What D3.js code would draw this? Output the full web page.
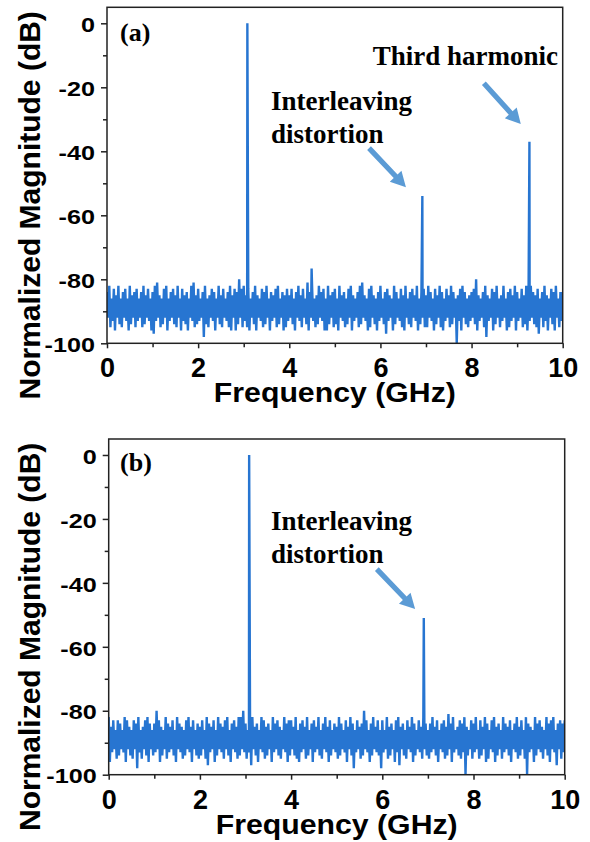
<!DOCTYPE html>
<html>
<head>
<meta charset="utf-8">
<script src="https://cdn.jsdelivr.net/npm/d3@7"></script>
<style>
  body { margin: 0; background: #fff; }
  svg { display: block; }
</style>
</head>
<body>
<svg id="chart" width="590" height="842"></svg>
<script>
// spectrum is stored as peak / trough per 0.05 GHz bin (0 .. 10 GHz)
const binStep = 0.05;

const hiA = [
  -84,-82,-86,-83,-85,-82,-86,-84,-83,-86,-82,-85,-84,-83,-86,-84,-82,-85,-83,-86,
  -84,-82,-81,-85,-86,-83,-82,-86,-84,-83,-85,-82,-86,-83,-85,-84,-86,-82,-81,-85,
  -83,-86,-84,-82,-86,-85,-83,-84,-86,-82,-85,-83,-86,-84,-82,-85,-83,-84,-80,-83,
  -82,-85,-83,-86,-84,-82,-85,-86,-83,-84,-82,-86,-84,-85,-83,-82,-86,-84,-85,-83,
  -85,-83,-86,-84,-82,-85,-83,-86,-81,-84,-82,-86,-85,-82,-84,-83,-86,-82,-85,-84,
  -83,-86,-82,-85,-84,-86,-83,-82,-85,-86,-84,-82,-81,-85,-86,-83,-82,-85,-86,-84,
  -82,-86,-84,-83,-85,-86,-82,-84,-86,-83,-85,-82,-86,-84,-83,-85,-82,-86,-84,-83,
  -85,-82,-84,-86,-83,-85,-82,-84,-86,-83,-85,-82,-84,-86,-85,-83,-82,-84,-86,-85,
  -84,-83,-80,-85,-86,-84,-82,-85,-86,-83,-84,-82,-86,-85,-82,-86,-84,-83,-85,-82,
  -84,-86,-83,-85,-82,-86,-82,-84,-85,-83,-86,-84,-82,-85,-86,-83,-84,-82,-86,-84,
  -84
];
const loA = [
  -92,-95,-93,-96,-92,-94,-95,-92,-93,-96,-94,-92,-95,-93,-92,-95,-94,-92,-93,-96,
  -97,-93,-92,-95,-94,-92,-96,-93,-92,-94,-95,-92,-96,-93,-94,-96,-92,-93,-95,-94,
  -93,-92,-98,-94,-95,-92,-93,-96,-92,-94,-95,-92,-93,-95,-96,-92,-96,-94,-92,-95,
  -93,-95,-96,-92,-94,-96,-92,-93,-95,-94,-92,-96,-93,-92,-95,-94,-92,-96,-95,-93,
  -92,-94,-96,-92,-93,-95,-92,-94,-96,-92,-93,-95,-94,-92,-93,-96,-96,-94,-92,-95,
  -94,-96,-92,-93,-95,-94,-92,-96,-93,-92,-95,-94,-92,-93,-96,-95,-92,-94,-96,-93,
  -92,-94,-97,-93,-92,-96,-94,-92,-93,-95,-96,-92,-94,-95,-92,-93,-96,-94,-92,-95,
  -95,-92,-93,-96,-94,-92,-95,-96,-93,-92,-95,-94,-92,-100,-93,-96,-92,-94,-95,-93,
  -92,-94,-96,-93,-92,-95,-98,-93,-92,-96,-94,-92,-95,-93,-92,-96,-95,-93,-92,-96,
  -93,-92,-95,-94,-96,-93,-92,-94,-95,-97,-92,-95,-93,-96,-92,-94,-96,-92,-95,-93,
  -94
];
const hiB = [
  -82,-85,-83,-86,-83,-84,-86,-82,-83,-85,-86,-83,-84,-82,-86,-85,-83,-82,-84,-86,
  -84,-80,-83,-85,-86,-82,-84,-85,-83,-86,-82,-84,-85,-86,-83,-82,-85,-83,-86,-84,
  -85,-83,-86,-82,-84,-85,-83,-86,-82,-84,-85,-83,-82,-86,-84,-83,-85,-82,-82,-80,
  -84,-86,-83,-82,-85,-84,-86,-82,-83,-85,-84,-86,-82,-84,-83,-85,-86,-82,-84,-83,
  -83,-85,-82,-86,-84,-83,-85,-82,-86,-84,-83,-85,-82,-86,-84,-82,-85,-83,-86,-84,
  -85,-82,-84,-86,-83,-85,-82,-84,-86,-83,-85,-84,-80,-83,-86,-84,-82,-85,-83,-86,
  -83,-86,-82,-85,-84,-86,-83,-82,-85,-84,-86,-83,-85,-82,-84,-86,-83,-85,-82,-84,
  -86,-84,-82,-85,-83,-86,-84,-83,-85,-81,-84,-82,-86,-85,-83,-84,-82,-85,-86,-83,
  -84,-82,-86,-83,-85,-82,-84,-86,-83,-82,-85,-84,-86,-82,-84,-85,-83,-86,-84,-82,
  -85,-83,-86,-82,-84,-85,-86,-82,-84,-83,-85,-86,-82,-84,-83,-82,-86,-84,-83,-84,
  -83
];
const loB = [
  -96,-93,-92,-95,-94,-92,-93,-96,-92,-94,-95,-92,-98,-93,-95,-92,-94,-96,-92,-94,
  -93,-92,-96,-94,-92,-95,-93,-92,-94,-96,-92,-93,-95,-94,-92,-93,-96,-92,-94,-95,
  -94,-92,-95,-97,-93,-92,-96,-94,-92,-93,-95,-92,-94,-96,-92,-93,-95,-94,-92,-93,
  -95,-93,-97,-92,-94,-96,-92,-93,-95,-94,-92,-96,-93,-92,-94,-95,-92,-93,-96,-94,
  -92,-94,-95,-96,-93,-92,-95,-94,-92,-96,-93,-92,-94,-95,-92,-93,-96,-94,-92,-93,
  -95,-94,-92,-93,-96,-92,-94,-98,-93,-92,-95,-94,-92,-93,-96,-94,-92,-93,-94,-98,
  -93,-92,-95,-94,-92,-96,-93,-97,-92,-94,-95,-92,-93,-96,-94,-92,-93,-95,-92,-94,
  -95,-93,-92,-94,-96,-92,-93,-95,-94,-92,-96,-93,-92,-94,-95,-93,-100,-94,-92,-95,
  -93,-92,-95,-94,-92,-96,-95,-92,-93,-96,-94,-92,-95,-93,-92,-94,-96,-92,-93,-95,
  -94,-92,-95,-100,-93,-92,-96,-94,-92,-93,-95,-92,-94,-96,-92,-93,-97,-92,-95,-93,
  -94
];

// discrete tones [GHz, dB]
const tonesA = [[3.08, 0], [4.49, -76.6], [6.92, -54], [9.27, -37]];
const tonesB = [[3.08, 0], [6.91, -51]];

const xMajor = [0, 2, 4, 6, 8, 10];
const xMinor = [1, 3, 5, 7, 9];
const yMajor = [0, -20, -40, -60, -80, -100];
const yMinor = [-10, -30, -50, -70, -90];

// annotations: text lines [GHz, dB, text], arrows [tailGHz, tailDB, tipGHz, tipDB]
const notesA = [[3.6, -27.1, "Interleaving"], [3.6, -37.4, "distortion"], [5.83, -13.0, "Third harmonic"]];
const arrowsA = [[5.75, -39.0, 6.56, -51.2], [8.27, -18.7, 9.08, -31.5]];
const notesB = [[3.56, -23.5, "Interleaving"], [3.56, -33.75, "distortion"]];
const arrowsB = [[5.88, -35.7, 6.72, -48.2]];

const svg = d3.select("#chart");
const traceColor = "#2775d1";
const arrowColor = "#5b9bd5";
const sans = "'Liberation Sans', Arial, Helvetica, sans-serif";
const serif = "'Liberation Serif', 'Times New Roman', serif";

function drawPanel(conf) {
    const x = d3.scaleLinear().domain([0, 10]).range([conf.left, conf.right]);
    const y = d3.scaleLinear().domain([-100, 5]).range([conf.bottom, conf.top]);
    const g = svg.append("g");

    // clip
    g.append("clipPath").attr("id", conf.id + "-clip")
        .append("rect")
        .attr("x", conf.left).attr("y", conf.top)
        .attr("width", conf.right - conf.left).attr("height", conf.bottom - conf.top);

    // trace points: peak then trough in every bin, plus tones
    let pts = [];
    conf.hi.forEach((v, i) => {
        pts.push([i * binStep, v]);
        pts.push([i * binStep + binStep / 2, conf.lo[i]]);
    });
    conf.tones.forEach(t => pts.push(t));
    pts.sort((a, b) => a[0] - b[0]);

    const line = d3.line().x(d => x(d[0])).y(d => y(d[1]));
    g.append("path")
        .attr("clip-path", `url(#${conf.id}-clip)`)
        .attr("d", line(pts))
        .attr("fill", "none")
        .attr("stroke", traceColor)
        .attr("stroke-width", 2.4)
        .attr("stroke-linejoin", "bevel");

    // axes
    const ax = g.append("g").attr("transform", `translate(0,${conf.bottom})`)
        .call(d3.axisBottom(x).tickValues(xMajor).tickSize(5).tickFormat(d => String(d)));
    ax.select(".domain").remove();
    ax.selectAll("text")
        .attr("dy", null).attr("y", 34)
        .style("font-family", sans).style("font-weight", "bold").style("font-size", "27px")
        .attr("fill", "#000");
    const axm = g.append("g").attr("transform", `translate(0,${conf.bottom})`)
        .call(d3.axisBottom(x).tickValues(xMinor).tickSize(4).tickFormat(""));
    axm.select(".domain").remove();

    const ay = g.append("g").attr("transform", `translate(${conf.left},0)`)
        .call(d3.axisLeft(y).tickValues(yMajor).tickSize(6).tickFormat(d => String(d)));
    ay.select(".domain").remove();
    ay.selectAll("text")
        .attr("x", null).attr("dy", "0.36em")
        .attr("transform", "translate(-12,1) scale(1.26,1)")
        .style("font-family", sans).style("font-weight", "bold").style("font-size", "20px")
        .attr("fill", "#000");
    const aym = g.append("g").attr("transform", `translate(${conf.left},0)`)
        .call(d3.axisLeft(y).tickValues(yMinor).tickSize(4).tickFormat(""));
    aym.select(".domain").remove();
    g.selectAll(".tick line").attr("stroke", "#222").attr("stroke-width", 1.5);

    // frame
    g.append("rect")
        .attr("x", conf.left).attr("y", conf.top)
        .attr("width", conf.right - conf.left).attr("height", conf.bottom - conf.top)
        .attr("fill", "none").attr("stroke", "#222").attr("stroke-width", 1.5);

    // axis titles
    g.append("text")
        .attr("x", (conf.left + conf.right) / 2).attr("y", conf.bottom + 59)
        .attr("text-anchor", "middle")
        .attr("textLength", 242).attr("lengthAdjust", "spacingAndGlyphs")
        .style("font-family", sans).style("font-weight", "bold").style("font-size", "27px")
        .text("Frequency (GHz)");
    g.append("text")
        .attr("transform", `translate(40,${(conf.top + conf.bottom) / 2 + 30}) rotate(-90)`)
        .attr("text-anchor", "middle")
        .style("font-family", sans).style("font-weight", "bold").style("font-size", "30px")
        .text("Normalized Magnitude (dB)");

    // panel tag
    g.append("text")
        .attr("x", x(conf.tag[0])).attr("y", y(conf.tag[1]))
        .style("font-family", serif).style("font-weight", "bold").style("font-size", "26px")
        .text(conf.tag[2]);

    // notes
    g.selectAll(".note").data(conf.notes).enter().append("text")
        .attr("x", d => x(d[0])).attr("y", d => y(d[1]))
        .style("font-family", serif).style("font-weight", "bold").style("font-size", "27px")
        .text(d => d[2]);

    // arrows
    conf.arrows.forEach(a => {
        const x0 = x(a[0]), y0 = y(a[1]), x1 = x(a[2]), y1 = y(a[3]);
        const len = Math.hypot(x1 - x0, y1 - y0);
        const ux = (x1 - x0) / len, uy = (y1 - y0) / len;
        const head = 15, hw = 8, sw = 2.6;
        const bx = x1 - ux * head, by = y1 - uy * head;
        const p = [
            [x0 - uy * sw, y0 + ux * sw],
            [bx - uy * sw, by + ux * sw],
            [bx - uy * hw, by + ux * hw],
            [x1, y1],
            [bx + uy * hw, by - ux * hw],
            [bx + uy * sw, by - ux * sw],
            [x0 + uy * sw, y0 - ux * sw]
        ];
        g.append("polygon")
            .attr("points", p.map(q => q.join(",")).join(" "))
            .attr("fill", arrowColor);
    });
}

drawPanel({
    id: "pa", left: 107, right: 562.7, top: 7.3, bottom: 343.3,
    hi: hiA, lo: loA, tones: tonesA,
    tag: [0.285, -5.4, "(a)"], notes: notesA, arrows: arrowsA
});
drawPanel({
    id: "pb", left: 108.7, right: 564.7, top: 439, bottom: 774.7,
    hi: hiB, lo: loB, tones: tonesB,
    tag: [0.25, -5.1, "(b)"], notes: notesB, arrows: arrowsB
});
</script>
</body>
</html>
